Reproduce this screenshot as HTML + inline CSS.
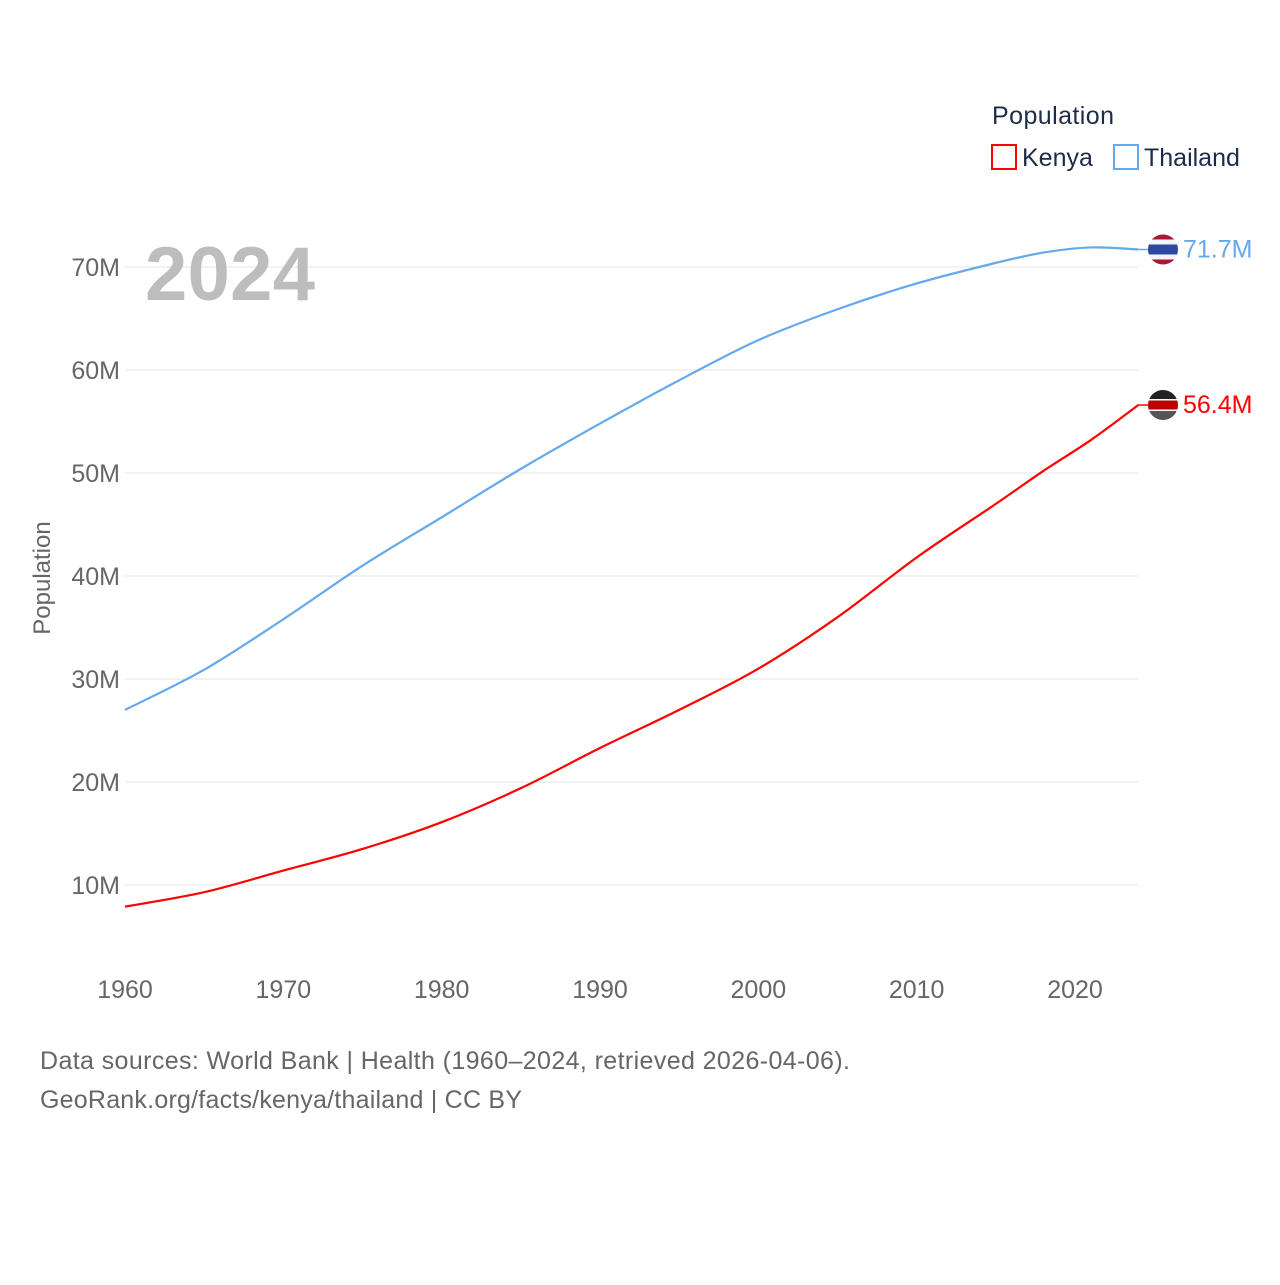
<!DOCTYPE html>
<html><head><meta charset="utf-8"><style>
body{margin:0;background:#fff;font-family:"Liberation Sans",sans-serif}
svg text{font-family:"Liberation Sans",sans-serif}
</style></head><body>
<svg id="chart" width="1280" height="1280" viewBox="0 0 1280 1280" xmlns="http://www.w3.org/2000/svg">
<g id="grid"></g>
<g id="yticks"></g>
<g id="xticks"></g>
<text x="145" y="300" font-size="76" font-weight="bold" fill="#bdbdbd" textLength="170">2024</text>
<text transform="translate(50,578) rotate(-90)" text-anchor="middle" font-size="24" fill="#666">Population</text>
<g id="lines"></g>
<g>
<text x="992" y="124" font-size="25" fill="#1d2b4a" textLength="122">Population</text>
<rect x="992" y="145" width="24" height="24" fill="none" stroke="#ff0000" stroke-width="2"/>
<text x="1022" y="166" font-size="25" fill="#1d2b4a">Kenya</text>
<rect x="1114" y="145" width="24" height="24" fill="none" stroke="#64a8ed" stroke-width="2"/>
<text x="1144" y="166" font-size="25" fill="#1d2b4a">Thailand</text>
</g>
<g id="endlabels"></g>
<text x="40" y="1069" font-size="25" fill="#666" textLength="810">Data sources: World Bank | Health (1960–2024, retrieved 2026-04-06).</text>
<text x="40" y="1108" font-size="25" fill="#666" textLength="482">GeoRank.org/facts/kenya/thailand | CC BY</text>
</svg>
<script>
const years = [1960,1965,1970,1975,1980,1985,1990,1995,2000,2005,2010,2015,2018,2021,2024];
const kenya = [7.9,9.3,11.4,13.5,16.1,19.4,23.3,27.0,31.0,36.0,41.8,47.0,50.2,53.2,56.6];
const thailand = [27.0,30.9,35.8,41.0,45.7,50.4,54.8,59.0,62.9,65.9,68.4,70.4,71.4,71.9,71.7];
const yTicks = [10,20,30,40,50,60,70];
const xTicks = [1960,1970,1980,1990,2000,2010,2020];
const NS="http://www.w3.org/2000/svg";
const X=y=>125+(y-1960)*(950/60);
const Y=v=>988-v*10.3;
function mk(t,a,p){const e=document.createElementNS(NS,t);for(const k in a)e.setAttribute(k,a[k]);p.appendChild(e);return e;}
const grid=document.getElementById('grid'),yt=document.getElementById('yticks'),xt=document.getElementById('xticks');
yTicks.forEach(v=>{
 const l=mk('line',{x1:125,x2:1138,y1:Y(v),y2:Y(v),stroke:'#e6e6e6','stroke-width':1},grid);
 
 
 const t=mk('text',{x:120,y:Y(v)+9,'text-anchor':'end','font-size':25,fill:'#666'},yt);
 t.textContent=v+'M';
 
 
});
xTicks.forEach(v=>{
 const t=mk('text',{x:X(v),y:998,'text-anchor':'middle','font-size':25,fill:'#666'},xt);
 t.textContent=v;
 
 
});
function path(vals){
 const p=years.map((y,i)=>[X(y),Y(vals[i])]);
 let d='M'+p[0][0]+','+p[0][1];
 for(let i=0;i<p.length-1;i++){
  const p0=p[Math.max(0,i-1)],p1=p[i],p2=p[i+1],p3=p[Math.min(p.length-1,i+2)];
  const c1=[p1[0]+(p2[0]-p0[0])/6,p1[1]+(p2[1]-p0[1])/6];
  const c2=[p2[0]-(p3[0]-p1[0])/6,p2[1]-(p3[1]-p1[1])/6];
  d+=' C'+c1+' '+c2+' '+p2;
 }
 return d;
}
const lines=document.getElementById('lines');
const lt=mk('path',{d:path(thailand),fill:'none',stroke:'#64a8ed','stroke-width':2.2},lines);


const lk=mk('path',{d:path(kenya),fill:'none',stroke:'#ff0000','stroke-width':2.2},lines);


const el=document.getElementById('endlabels');
function endLabel(vals,color,name,label,stripes){
 const v=vals[vals.length-1],y=Y(v),cx=1163;
 const cp=mk('clipPath',{id:'c'+name},el);
 mk('circle',{cx:cx,cy:y,r:15},cp);
 const g=mk('g',{'clip-path':'url(#c'+name+')'},el);
 
 
 let yy=y-15;
 stripes.forEach(s=>{mk('rect',{x:cx-15,y:yy,width:30,height:s[1],fill:s[0]},g);yy+=s[1];});
 mk('line',{x1:1138,x2:1148,y1:y,y2:y,stroke:color,'stroke-width':1.5},el);
 const t=mk('text',{x:1183,y:y+8,'font-size':25,fill:color},el);
 t.textContent=label;
 
 
}
endLabel(thailand,'#64a8ed','thailand',thailand[thailand.length-1].toFixed(1)+'M',[['#a51931',5],['#f4f5f8',5],['#2d4aa0',10],['#f4f5f8',5],['#a51931',5]]);
endLabel(kenya,'#ff0000','kenya','56.4M',[['#222',9],['#fff',1.5],['#bb0000',9],['#fff',1.5],['#555',9]]);
</script>
</body></html>
